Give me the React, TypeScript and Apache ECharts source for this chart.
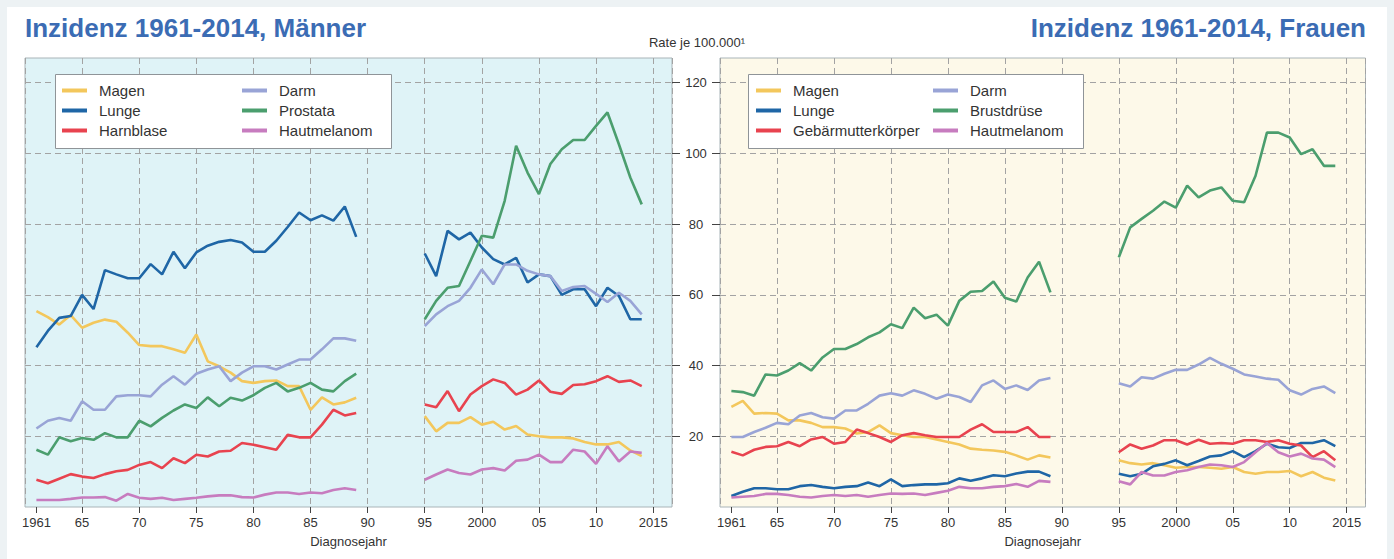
import React, { useEffect, useRef } from "react";
import * as echarts from "echarts";

// Diagnosis years: registry period up to 1989, then 1995 onwards
const range = (a: number, b: number) => Array.from({ length: b - a + 1 }, (_, i) => a + i);
const yearsEarly = range(1961, 1989);
const yearsLate = range(1995, 2014);

// x-axis ticks and their printed labels
const xTickYears = [1961, 1965, 1970, 1975, 1980, 1985, 1990, 1995, 2000, 2005, 2010, 2015];
const xTickLabels = ["1961", "65", "70", "75", "80", "85", "90", "95", "2000", "05", "10", "2015"];
// y-axis ticks (rate per 100,000)
const yTicks = [20, 40, 60, 80, 100, 120];

// Männer, 1961-1989
const magenM1 = [55.4, 53.7, 51.6, 54.3, 50.7, 52.1, 53, 52.4, 49.3, 45.8, 45.5, 45.5, 44.6, 43.6, 48.8, 41.2, 39.8, 38, 35.6, 35.1, 35.6, 35.8, 34.2, 34.2, 27.5, 31, 29, 29.6, 30.9];
const lungeM1 = [45.2, 49.8, 53.5, 54, 60, 56, 67, 65.8, 64.7, 64.7, 68.7, 65.8, 72.2, 67.5, 72, 73.9, 75, 75.5, 74.8, 72.2, 72.2, 75.3, 79.2, 83.3, 81.1, 82.5, 81, 85, 76.4];
const harnblaseM1 = [7.7, 6.7, 8, 9.3, 8.6, 8.2, 9.3, 10.1, 10.5, 11.9, 12.7, 11, 13.8, 12.4, 14.8, 14.3, 15.7, 15.9, 18.1, 17.6, 16.9, 16.2, 20.4, 19.7, 19.7, 23.3, 27.5, 25.9, 26.6];
const darmM1 = [22.2, 24.4, 25.2, 24.4, 29.9, 27.5, 27.5, 31.3, 31.6, 31.6, 31.3, 34.6, 37, 34.6, 37.7, 38.9, 39.8, 35.6, 38, 39.8, 39.8, 38.9, 40.3, 41.7, 41.7, 44.6, 47.7, 47.7, 47];
const prostataM1 = [16.2, 14.8, 19.7, 18.6, 19.5, 19, 20.9, 19.7, 19.7, 24.4, 22.8, 25.2, 27.3, 29, 28, 31, 28.5, 30.9, 30.1, 31.6, 33.7, 35.1, 32.7, 33.7, 35.1, 33.2, 32.7, 35.6, 37.7];
const melanomM1 = [2, 2, 2, 2.3, 2.7, 2.7, 2.8, 1.8, 3.7, 2.6, 2.3, 2.6, 2, 2.3, 2.6, 3, 3.3, 3.3, 2.8, 2.7, 3.5, 4.1, 4.1, 3.7, 4.1, 3.9, 4.8, 5.3, 4.8];

// Männer, 1995-2014
const magenM2 = [25.7, 21.4, 23.8, 23.8, 25.4, 23.3, 24.1, 21.9, 22.9, 20.5, 20, 19.7, 19.7, 19.4, 18.4, 17.7, 17.7, 18.4, 16, 14.4];
const lungeM2 = [71.7, 65.3, 78.1, 75.7, 77.6, 73.4, 70.1, 68.6, 70.5, 63.5, 65.8, 65.3, 60, 61.6, 61.6, 56.8, 62, 59.7, 53.1, 53.1];
const harnblaseM2 = [29, 28.2, 32.8, 27.1, 31.8, 34.2, 36.1, 35.1, 31.8, 33.2, 35.8, 32.6, 32, 34.5, 34.7, 35.6, 37, 35.4, 35.8, 34.2];
const darmM2 = [51.2, 54.5, 56.8, 58.3, 62, 67.2, 63, 68.6, 68.6, 66.8, 65.8, 65.3, 61.1, 62.2, 62.5, 60.3, 58, 60.6, 58.3, 54.5];
const prostataM2 = [53.1, 58.3, 62, 62.5, 69.6, 76.7, 76.2, 86.6, 102.2, 94.6, 88.5, 97, 101.2, 103.8, 103.8, 107.8, 111.6, 102.6, 93.2, 85.6];
const melanomM2 = [7.7, 9.2, 10.6, 9.6, 9.2, 10.6, 11, 10.3, 13.1, 13.4, 14.8, 12.7, 12.7, 16.2, 15.7, 12.2, 17.2, 12.9, 15.7, 15.3];

// Frauen, 1961-1989
const magenF1 = [28.3, 30, 26.4, 26.6, 26.4, 24.5, 24.5, 23.8, 22.6, 22.6, 22.2, 20.8, 21.2, 23.1, 20.9, 20.3, 19.8, 19.8, 19.1, 18.4, 17.7, 16.5, 16.2, 16, 15.6, 14.6, 13.4, 14.6, 14];
const lungeF1 = [3.1, 4.3, 5.3, 5.3, 5, 5, 5.9, 6.2, 5.7, 5.3, 5.7, 5.9, 6.9, 5.9, 7.8, 5.9, 6.2, 6.4, 6.4, 6.7, 8.1, 7.4, 8.1, 9, 8.7, 9.5, 10, 10, 8.7];
const gebaermutterF1 = [15.6, 14.6, 16.2, 17, 17.2, 18.4, 17.2, 19.1, 19.8, 17.9, 18.4, 21.9, 20.9, 19.8, 18.4, 20.3, 20.9, 20.3, 19.8, 19.8, 19.8, 21.9, 23.4, 21.2, 21.2, 21.2, 22.6, 19.8, 19.8];
const darmF1 = [19.8, 19.8, 21.2, 22.4, 23.8, 23.4, 25.9, 26.6, 25.4, 25, 27.3, 27.3, 29.2, 31.5, 32.2, 31.5, 33, 32, 30.6, 31.8, 31.1, 29.7, 34.4, 35.8, 33.4, 34.4, 33.1, 35.8, 36.5];
const brustF1 = [32.8, 32.5, 31.5, 37.5, 37.2, 38.6, 40.7, 38.6, 42.3, 44.7, 44.7, 46.1, 48, 49.4, 51.7, 50.6, 56.4, 53.4, 54.4, 51.3, 58.3, 60.9, 61.1, 63.8, 59.2, 58.1, 64.9, 69.4, 60.7];
const melanomF1 = [2.7, 2.9, 3.1, 3.7, 3.7, 3.4, 2.9, 2.7, 3.1, 3.4, 3.1, 3.4, 2.9, 3.4, 3.8, 3.7, 3.8, 3.4, 4, 4.6, 5.7, 5.3, 5.3, 5.7, 5.9, 6.5, 5.7, 7.4, 7.1];

// Frauen, 1995-2014
const magenF2 = [13.2, 12.4, 12, 12.4, 11.8, 11.1, 11.3, 11.3, 11.1, 10.8, 11.3, 9.9, 9.4, 9.9, 9.9, 10.2, 8.7, 9.9, 8.3, 7.5];
const lungeF2 = [9.4, 8.7, 9.4, 11.5, 12.2, 13.2, 11.8, 13, 14.3, 14.6, 15.8, 14.1, 15.8, 17.9, 16.9, 16.7, 18.1, 18.1, 18.9, 17.2];
const gebaermutterF2 = [15.5, 17.7, 16.5, 17.4, 18.9, 18.9, 17.7, 19, 17.9, 18.1, 17.9, 18.9, 18.9, 18.4, 18.9, 17.9, 17.4, 14.1, 15.8, 13.2];
const darmF2 = [35, 34.1, 36.7, 36.3, 37.7, 38.8, 38.8, 40.3, 42.2, 40.5, 39.1, 37.5, 36.9, 36.3, 36, 33, 31.8, 33.4, 34.1, 32.2];
const brustF2 = [70.6, 79.1, 81.5, 83.8, 86.4, 84.7, 90.9, 87.6, 89.5, 90.4, 86.6, 86.2, 93.7, 105.9, 105.9, 104.5, 99.8, 101.2, 96.5, 96.5];
const melanomF2 = [7.3, 6.4, 9.9, 8.9, 8.9, 9.9, 10.4, 11.3, 12, 11.8, 11.3, 12.7, 15.5, 18.1, 15.5, 14.3, 15.1, 13.7, 13.4, 11.3];

const COLORS = {
  magen: "#f3c75c",
  lunge: "#1f66a6",
  rot: "#e8434f",
  darm: "#99a4d6",
  gruen: "#4b9e6e",
  melanom: "#c77cbf",
};

const FONT = "'Liberation Sans', Arial, Helvetica, sans-serif";

const menSeries = [
  { name: "Magen", color: COLORS.magen, early: magenM1, late: magenM2 },
  { name: "Lunge", color: COLORS.lunge, early: lungeM1, late: lungeM2 },
  { name: "Harnblase", color: COLORS.rot, early: harnblaseM1, late: harnblaseM2 },
  { name: "Darm", color: COLORS.darm, early: darmM1, late: darmM2 },
  { name: "Prostata", color: COLORS.gruen, early: prostataM1, late: prostataM2 },
  { name: "Hautmelanom", color: COLORS.melanom, early: melanomM1, late: melanomM2 },
];

const womenSeries = [
  { name: "Magen", color: COLORS.magen, early: magenF1, late: magenF2 },
  { name: "Lunge", color: COLORS.lunge, early: lungeF1, late: lungeF2 },
  { name: "Gebärmutterkörper", color: COLORS.rot, early: gebaermutterF1, late: gebaermutterF2 },
  { name: "Darm", color: COLORS.darm, early: darmF1, late: darmF2 },
  { name: "Brustdrüse", color: COLORS.gruen, early: brustF1, late: brustF2 },
  { name: "Hautmelanom", color: COLORS.melanom, early: melanomF1, late: melanomF2 },
];

// year/value pairs with an empty point separating the two periods
function toPairs(early: number[], late: number[]) {
  return [
    ...yearsEarly.map((y, i) => [y, early[i]]),
    [1992, "-"],
    ...yearsLate.map((y, i) => [y, late[i]]),
  ];
}

const X_MIN = 1960;
const X_MAX = 2016.65;
const Y_MAX = 127;
const GRID_TOP = 58;
const GRID_H = 449;
const DASH = { color: "#a3a3a3", width: 1, type: [6, 4] as number[] };

function visibleXAxis(gridIndex: number) {
  return {
    type: "value",
    gridIndex,
    min: X_MIN,
    max: X_MAX,
    axisLine: { show: false },
    splitLine: { show: false },
    axisTick: { customValues: xTickYears, length: 6, lineStyle: { color: "#444" } },
    axisLabel: {
      customValues: xTickYears,
      margin: 9,
      color: "#333",
      fontSize: 13,
      fontFamily: FONT,
      formatter: (v: number) => xTickLabels[xTickYears.indexOf(v)] ?? "",
    },
    name: "Diagnosejahr",
    nameLocation: "middle",
    nameGap: 28,
    nameTextStyle: { color: "#333", fontSize: 13, fontFamily: FONT },
  };
}

function gridXAxis(gridIndex: number) {
  return {
    type: "value",
    gridIndex,
    min: X_MIN,
    max: X_MAX,
    interval: 5,
    axisLine: { show: false },
    axisTick: { show: false },
    axisLabel: { show: false },
    splitLine: { show: true, lineStyle: DASH },
  };
}

function legendColumn(left: number, names: string[]) {
  return {
    left,
    top: 83,
    orient: "vertical",
    padding: 0,
    itemGap: 5,
    itemWidth: 25,
    itemHeight: 4,
    icon: "rect",
    z: 6,
    selectedMode: false,
    data: names,
    textStyle: { color: "#333", fontSize: 15, fontFamily: FONT, padding: [0, 0, 0, 7] },
  };
}

export default function App() {
  const ref = useRef<HTMLDivElement>(null);

  useEffect(() => {
    if (!ref.current) return;
    const chart = echarts.init(ref.current, undefined, { renderer: "svg" });

    const series: any[] = [];
    [menSeries, womenSeries].forEach((list, panel) => {
      list.forEach((s) => {
        series.push({
          type: "line",
          name: s.name,
          xAxisIndex: panel * 2,
          yAxisIndex: panel,
          data: toPairs(s.early, s.late),
          symbol: "none",
          connectNulls: false,
          color: s.color,
          lineStyle: { width: 2.6, color: s.color },
        });
      });
    });

    chart.setOption({
      animation: false,
      textStyle: { fontFamily: FONT },
      title: [
        {
          text: "Inzidenz 1961-2014, Männer",
          left: 25,
          top: 15,
          padding: 0,
          textStyle: { fontSize: 26, fontWeight: "bold", color: "#3b6cb4", fontFamily: FONT },
        },
        {
          text: "Inzidenz 1961-2014, Frauen",
          right: 28,
          top: 15,
          padding: 0,
          textStyle: { fontSize: 26, fontWeight: "bold", color: "#3b6cb4", fontFamily: FONT },
        },
        {
          text: "Rate je 100.000¹",
          left: "center",
          top: 36,
          padding: 0,
          textStyle: { fontSize: 13, fontWeight: "normal", color: "#333", fontFamily: FONT },
        },
      ],
      grid: [
        {
          left: 25, top: GRID_TOP, width: 647, height: GRID_H,
          show: true, backgroundColor: "#dff3f7", borderColor: "#a9b4b8", borderWidth: 1,
        },
        {
          left: 720, top: GRID_TOP, width: 645.5, height: GRID_H,
          show: true, backgroundColor: "#fdf9e9", borderColor: "#a9b4b8", borderWidth: 1,
        },
      ],
      xAxis: [visibleXAxis(0), gridXAxis(0), visibleXAxis(1), gridXAxis(1)],
      yAxis: [
        {
          type: "value",
          gridIndex: 0,
          position: "right",
          min: 0,
          max: Y_MAX,
          interval: 20,
          axisLine: { show: false },
          axisTick: { customValues: yTicks, length: 8, lineStyle: { color: "#444" } },
          axisLabel: {
            customValues: yTicks,
            align: "center",
            margin: 24,
            color: "#333",
            fontSize: 13,
            fontFamily: FONT,
          },
          splitLine: { show: true, lineStyle: DASH },
        },
        {
          type: "value",
          gridIndex: 1,
          position: "left",
          min: 0,
          max: Y_MAX,
          interval: 20,
          axisLine: { show: false },
          axisTick: { customValues: yTicks, length: 8, lineStyle: { color: "#444" } },
          axisLabel: { show: false },
          splitLine: { show: true, lineStyle: DASH },
        },
      ],
      graphic: [
        {
          type: "rect",
          z: 5,
          shape: { x: 55.5, y: 74.5, width: 336, height: 74 },
          style: { fill: "#ffffff", stroke: "#8f9498", lineWidth: 1 },
        },
        {
          type: "rect",
          z: 5,
          shape: { x: 748.5, y: 74.5, width: 335, height: 74 },
          style: { fill: "#ffffff", stroke: "#8f9498", lineWidth: 1 },
        },
      ],
      legend: [
        legendColumn(62, ["Magen", "Lunge", "Harnblase"]),
        legendColumn(242, ["Darm", "Prostata", "Hautmelanom"]),
        legendColumn(756, ["Magen", "Lunge", "Gebärmutterkörper"]),
        legendColumn(933, ["Darm", "Brustdrüse", "Hautmelanom"]),
      ],
      series,
    });

    return () => chart.dispose();
  }, []);

  return (
    <div style={{ position: "absolute", left: 0, top: 0, width: 1394, height: 559, background: "#edf2f4" }}>
      <div style={{ position: "absolute", left: 7, top: 7, width: 1380, height: 552, background: "#ffffff" }} />
      <div ref={ref} style={{ position: "absolute", left: 0, top: 0, width: 1394, height: 559 }} />
    </div>
  );
}
